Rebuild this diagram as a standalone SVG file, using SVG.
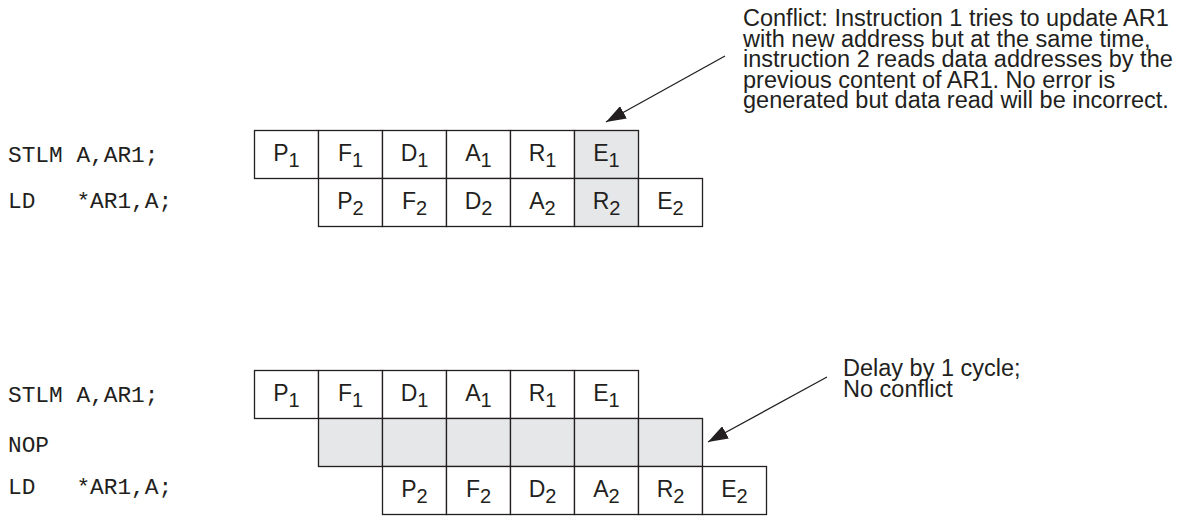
<svg xmlns="http://www.w3.org/2000/svg" width="1195" height="519" viewBox="0 0 1195 519">
<defs>
<style>
.c{fill:#fff;stroke:#231f20;stroke-width:1.3}
.g{fill:#e6e7e8;stroke:#231f20;stroke-width:1.3}
.t{font-family:"Liberation Sans",Arial,sans-serif;font-size:23px;fill:#231f20;text-anchor:middle}
.s{font-size:20px}
.m{font-family:"Liberation Mono","Courier New",monospace;font-size:22.8px;fill:#231f20;white-space:pre}
.n{font-family:"Liberation Sans",Arial,sans-serif;font-size:23.5px;fill:#231f20}
.a{stroke:#231f20;stroke-width:1.3;fill:none;marker-end:url(#ah)}
</style>
<marker id="ah" viewBox="0 0 20 14" refX="20" refY="7" markerWidth="20" markerHeight="14" markerUnits="userSpaceOnUse" orient="auto">
<path d="M0,0 L20,7 L0,14 Z" fill="#231f20"/>
</marker>
</defs>
<rect width="1195" height="519" fill="#fff"/>

<g id="code-top">
<text class="m" x="8" y="162">STLM A,AR1;</text>
<text class="m" x="8" y="208" xml:space="preserve">LD   *AR1,A;</text>
</g>
<g id="code-bottom">
<text class="m" x="8" y="402">STLM A,AR1;</text>
<text class="m" x="8" y="452">NOP</text>
<text class="m" x="8" y="494" xml:space="preserve">LD   *AR1,A;</text>
</g>

<g id="top-i1">
<g id="t-P1"><rect class="c" x="254.5" y="130.5" width="64" height="48"/><text class="t" x="286.5" y="161">P<tspan class="s" dy="6">1</tspan></text></g>
<g id="t-F1"><rect class="c" x="318.5" y="130.5" width="64" height="48"/><text class="t" x="350.5" y="161">F<tspan class="s" dy="6">1</tspan></text></g>
<g id="t-D1"><rect class="c" x="382.5" y="130.5" width="64" height="48"/><text class="t" x="414.5" y="161">D<tspan class="s" dy="6">1</tspan></text></g>
<g id="t-A1"><rect class="c" x="446.5" y="130.5" width="64" height="48"/><text class="t" x="478.5" y="161">A<tspan class="s" dy="6">1</tspan></text></g>
<g id="t-R1"><rect class="c" x="510.5" y="130.5" width="64" height="48"/><text class="t" x="542.5" y="161">R<tspan class="s" dy="6">1</tspan></text></g>
<g id="t-E1"><rect class="g" x="574.5" y="130.5" width="64" height="48"/><text class="t" x="606.5" y="161">E<tspan class="s" dy="6">1</tspan></text></g>
</g>
<g id="top-i2">
<g id="t-P2"><rect class="c" x="318.5" y="178.5" width="64" height="48"/><text class="t" x="350.5" y="209">P<tspan class="s" dy="6">2</tspan></text></g>
<g id="t-F2"><rect class="c" x="382.5" y="178.5" width="64" height="48"/><text class="t" x="414.5" y="209">F<tspan class="s" dy="6">2</tspan></text></g>
<g id="t-D2"><rect class="c" x="446.5" y="178.5" width="64" height="48"/><text class="t" x="478.5" y="209">D<tspan class="s" dy="6">2</tspan></text></g>
<g id="t-A2"><rect class="c" x="510.5" y="178.5" width="64" height="48"/><text class="t" x="542.5" y="209">A<tspan class="s" dy="6">2</tspan></text></g>
<g id="t-R2"><rect class="g" x="574.5" y="178.5" width="64" height="48"/><text class="t" x="606.5" y="209">R<tspan class="s" dy="6">2</tspan></text></g>
<g id="t-E2"><rect class="c" x="638.5" y="178.5" width="64" height="48"/><text class="t" x="670.5" y="209">E<tspan class="s" dy="6">2</tspan></text></g>
</g>

<g id="bot-i1">
<g id="b-P1"><rect class="c" x="254.5" y="370.5" width="64" height="48"/><text class="t" x="286.5" y="401">P<tspan class="s" dy="6">1</tspan></text></g>
<g id="b-F1"><rect class="c" x="318.5" y="370.5" width="64" height="48"/><text class="t" x="350.5" y="401">F<tspan class="s" dy="6">1</tspan></text></g>
<g id="b-D1"><rect class="c" x="382.5" y="370.5" width="64" height="48"/><text class="t" x="414.5" y="401">D<tspan class="s" dy="6">1</tspan></text></g>
<g id="b-A1"><rect class="c" x="446.5" y="370.5" width="64" height="48"/><text class="t" x="478.5" y="401">A<tspan class="s" dy="6">1</tspan></text></g>
<g id="b-R1"><rect class="c" x="510.5" y="370.5" width="64" height="48"/><text class="t" x="542.5" y="401">R<tspan class="s" dy="6">1</tspan></text></g>
<g id="b-E1"><rect class="c" x="574.5" y="370.5" width="64" height="48"/><text class="t" x="606.5" y="401">E<tspan class="s" dy="6">1</tspan></text></g>
</g>
<g id="bot-nop">
<rect id="n1" class="g" x="318.5" y="418.5" width="64" height="48"/>
<rect id="n2" class="g" x="382.5" y="418.5" width="64" height="48"/>
<rect id="n3" class="g" x="446.5" y="418.5" width="64" height="48"/>
<rect id="n4" class="g" x="510.5" y="418.5" width="64" height="48"/>
<rect id="n5" class="g" x="574.5" y="418.5" width="64" height="48"/>
<rect id="n6" class="g" x="638.5" y="418.5" width="64" height="48"/>
</g>
<g id="bot-i2">
<g id="b-P2"><rect class="c" x="382.5" y="466.5" width="64" height="48"/><text class="t" x="414.5" y="497">P<tspan class="s" dy="6">2</tspan></text></g>
<g id="b-F2"><rect class="c" x="446.5" y="466.5" width="64" height="48"/><text class="t" x="478.5" y="497">F<tspan class="s" dy="6">2</tspan></text></g>
<g id="b-D2"><rect class="c" x="510.5" y="466.5" width="64" height="48"/><text class="t" x="542.5" y="497">D<tspan class="s" dy="6">2</tspan></text></g>
<g id="b-A2"><rect class="c" x="574.5" y="466.5" width="64" height="48"/><text class="t" x="606.5" y="497">A<tspan class="s" dy="6">2</tspan></text></g>
<g id="b-R2"><rect class="c" x="638.5" y="466.5" width="64" height="48"/><text class="t" x="670.5" y="497">R<tspan class="s" dy="6">2</tspan></text></g>
<g id="b-E2"><rect class="c" x="702.5" y="466.5" width="64" height="48"/><text class="t" x="734.5" y="497">E<tspan class="s" dy="6">2</tspan></text></g>
</g>

<g id="note-top">
<text class="n" x="743" y="26">Conflict: Instruction 1 tries to update AR1</text>
<text class="n" x="743" y="46.5">with new address but at the same time,</text>
<text class="n" x="743" y="67">instruction 2 reads data addresses by the</text>
<text class="n" x="743" y="87.5">previous content of AR1. No error is</text>
<text class="n" x="743" y="108">generated but data read will be incorrect.</text>
</g>
<g id="note-bottom">
<text class="n" x="843" y="376">Delay by 1 cycle;</text>
<text class="n" x="843" y="396.5">No conflict</text>
</g>

<g id="connectors">
<line class="a" x1="725" y1="56" x2="606" y2="122"/>
<line class="a" x1="827" y1="377" x2="708" y2="442"/>
</g>
</svg>
